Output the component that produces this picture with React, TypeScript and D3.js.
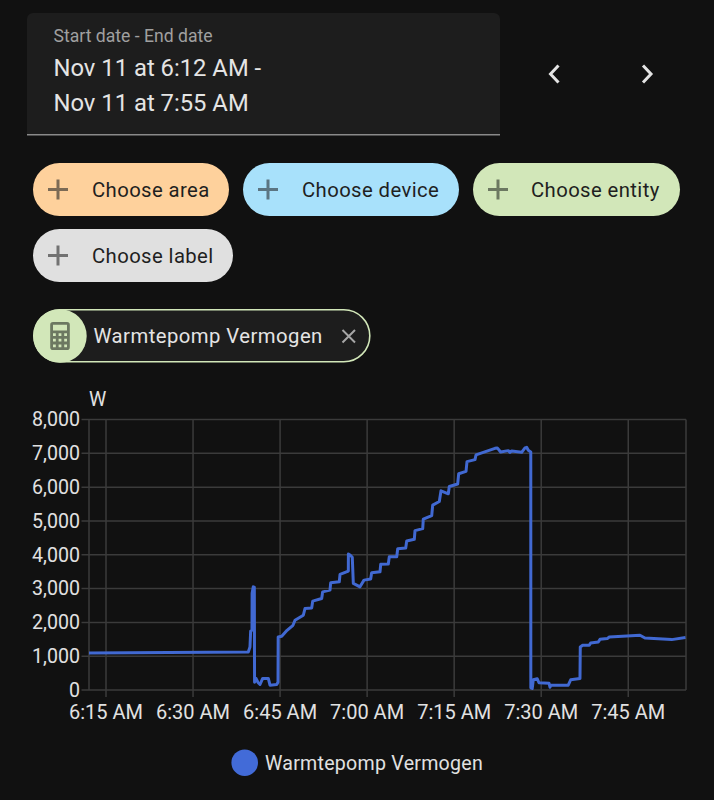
import React from "react";
import * as d3 from "d3";

const seriesName = "Warmtepomp Vermogen";
// minutes after 6:00 AM
const minutes = [12.07,39.52,39.81,39.93,40.16,40.18,40.38,40.56,40.6,40.85,41.19,41.54,42.0,42.97,43.26,44.42,44.64,44.67,45.28,46.2,47.22,47.57,49.0,49.29,50.45,50.62,52.17,52.34,53.6,53.72,55.2,55.33,56.76,56.77,57.05,57.44,57.62,58.77,59.46,60.61,60.78,62.22,62.34,63.65,63.82,65.1,65.27,66.65,66.82,68.13,68.25,69.58,69.68,71.13,71.3,72.44,72.73,73.99,74.16,75.6,75.78,77.04,77.21,78.59,78.76,82.03,82.43,83.01,84.32,84.62,84.91,86.63,87.2,87.49,87.77,88.2,88.21,88.45,88.63,89.32,89.61,91.34,91.51,91.63,94.66,95.08,96.68,96.73,97.14,98.28,98.52,99.83,100.13,101.38,101.73,107.02,107.88,112.48,114.86];
const watts = [1092,1122,1270,1745,1766,2864,3051,3042,231,341,223,163,341,341,142,163,231,1567,1588,1766,1914,2063,2211,2410,2428,2627,2707,2903,2953,3170,3200,3419,3517,4022,3992,3924,3152,3051,3250,3280,3467,3497,3716,3725,3942,3942,4179,4200,4408,4458,4714,4773,5052,5159,5468,5574,5892,5803,6020,6091,6397,6465,6753,6812,6952,7148,7160,7041,7079,7029,7070,7029,7160,7177,7088,7041,65,45,303,332,214,202,83,142,142,303,341,1270,1321,1321,1389,1419,1499,1520,1567,1618,1538,1490,1550];
const yTicks = [0,1000,2000,3000,4000,5000,6000,7000,8000];
const xTickMinutes = [15,30,45,60,75,90,105];
const xTickLabels = ["6:15 AM","6:30 AM","6:45 AM","7:00 AM","7:15 AM","7:30 AM","7:45 AM"];
const chips = [
  { label: "Choose area", x: 33, y: 163, w: 196, fill: "#fed19c", ink: "#7b6a55", tx: 92 },
  { label: "Choose device", x: 243, y: 163, w: 216, fill: "#a8e1fb", ink: "#5b7582", tx: 302 },
  { label: "Choose entity", x: 473, y: 163, w: 207, fill: "#d2e7b9", ink: "#6c7861", tx: 531 },
  { label: "Choose label", x: 33, y: 229, w: 200, fill: "#e0e0e0", ink: "#727272", tx: 92 },
];
const CALC = "M7,2H17A2,2 0 0,1 19,4V20A2,2 0 0,1 17,22H7A2,2 0 0,1 5,20V4A2,2 0 0,1 7,2M7,4V8H17V4H7M7,10V12H9V10H7M11,10V12H13V10H11M15,10V12H17V10H15M7,14V16H9V14H7M11,14V16H13V14H11M15,14V16H17V14H15M7,18V20H9V18H7M11,18V20H13V18H11M15,18V20H17V18H15Z";

export default function App() {
  const x = d3.scaleLinear().domain([12.07, 114.95]).range([89, 686]);
  const y = d3.scaleLinear().domain([0, 8000]).range([690, 419.5]);
  const line = d3.line<number>().x((_, i) => x(minutes[i])).y((d) => y(d)).curve(d3.curveLinear);
  const font = "Roboto, sans-serif";
  const grid = "#3b3b3b";
  return (
    <svg width={714} height={800} style={{ position: "absolute", left: 0, top: 0, background: "#111111", fontFamily: font }}>
      {/* date field */}
      <path d="M27,134V19a6,6 0 0 1 6,-6H494a6,6 0 0 1 6,6V134Z" fill="#1d1d1d" />
      <rect x={27} y={134} width={473} height={1.5} fill="#8a8a8a" />
      <text x={53.5} y={41.5} fontSize={17.6} fill="#a0a0a0">Start date - End date</text>
      <text x={53.5} y={75.5} fontSize={23.8} fill="#e4e4e4">Nov 11 at 6:12 AM -</text>
      <text x={53.5} y={110.5} fontSize={23.8} fill="#e4e4e4">Nov 11 at 7:55 AM</text>
      <path d="M558.5,65.5L550.5,74L558.5,82.5" fill="none" stroke="#e4e4e4" strokeWidth={3} />
      <path d="M643,65.5L651,74L643,82.5" fill="none" stroke="#e4e4e4" strokeWidth={3} />

      {/* chips */}
      {chips.map((c) => (
        <g key={c.label}>
          <rect x={c.x} y={c.y} width={c.w} height={53} rx={26.5} fill={c.fill} />
          <path d={`M${c.x + 15},${c.y + 26.5}h20M${c.x + 25},${c.y + 16.5}v20`} stroke={c.ink} strokeWidth={3} />
          <text x={c.tx} y={c.y + 34} fontSize={20.3} letterSpacing={0.4} fill="#1f1f1f">{c.label}</text>
        </g>
      ))}
      <rect x={33.8} y={309.8} width={336} height={52} rx={26} fill="#1d1d1d" stroke="#d2e7b9" strokeWidth={1.6} />
      <circle cx={60} cy={336} r={26.7} fill="#d2e7b9" />
      <path d={CALC} transform="translate(43.2,319.2) scale(1.4)" fill="#6c7861" />
      <text x={93.5} y={343} fontSize={20.3} letterSpacing={0.45} fill="#e4e4e4">{seriesName}</text>
      <path d="M342.5,330L355,342.5M355,330L342.5,342.5" stroke="#a6a6a6" strokeWidth={2} />

      {/* chart */}
      <text x={89} y={405.5} fontSize={19.5} fill="#e1e1e1">W</text>
      {yTicks.map((t) => (
        <g key={t}>
          <line x1={81.5} x2={686} y1={y(t)} y2={y(t)} stroke={grid} strokeWidth={1.5} />
          <text x={80} y={y(t) + 6.8} fontSize={19.6} textAnchor="end" fill="#e1e1e1">{d3.format(",")(t)}</text>
        </g>
      ))}
      <line x1={89} x2={89} y1={419.5} y2={690} stroke={grid} strokeWidth={1.5} />
      <line x1={686} x2={686} y1={419.5} y2={690} stroke={grid} strokeWidth={1.5} />
      {xTickMinutes.map((t, i) => (
        <g key={t}>
          <line x1={x(t)} x2={x(t)} y1={419.5} y2={697} stroke={grid} strokeWidth={1.5} />
          <text x={x(t)} y={719} fontSize={20} textAnchor="middle" fill="#e1e1e1">{xTickLabels[i]}</text>
        </g>
      ))}
      <path d={line(watts) ?? ""} fill="none" stroke="#4169d2" strokeWidth={3} strokeLinejoin="round" />

      {/* legend */}
      <circle cx={244.7} cy={762.7} r={13.3} fill="#426bd8" />
      <text x={265} y={770} fontSize={19.6} letterSpacing={0.25} fill="#e1e1e1">{seriesName}</text>
    </svg>
  );
}
